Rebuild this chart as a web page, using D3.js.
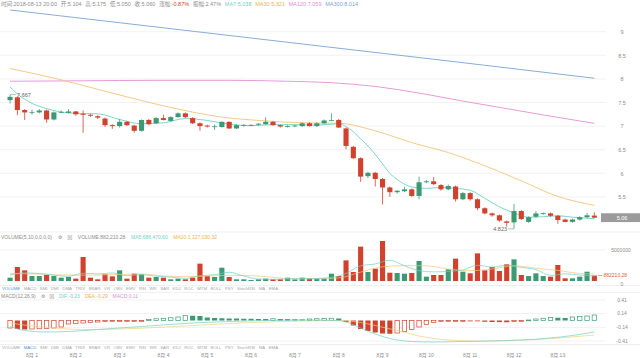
<!DOCTYPE html>
<html><head><meta charset="utf-8">
<script src="https://cdn.jsdelivr.net/npm/d3@7"></script>
<style>body{margin:0;background:#fff}svg{display:block}</style>
</head><body><svg id="c" width="640" height="358"></svg>
<script>
// ---------- DATA ----------
const opens  = [7.55,7.61,7.34,7.29,7.29,7.33,7.14,7.29,7.28,7.31, 7.26,7.24,7.21,7.16,7.02,7.00,7.09,7.01,6.90,7.13, 7.06,7.17,7.11,7.19,7.27,7.17,7.06,7.01,6.99,6.98, 7.09,6.95,7.02,7.02,7.03,7.04,7.09,7.02,6.99,7.00, 7.00,7.06,7.00,7.06,7.12,7.13,6.95,6.56,6.32,5.94, 6.01,5.88,5.70,5.60,5.62,5.66,5.52,5.81,5.83,5.75, 5.66,5.72,5.45,5.58,5.45,5.26,5.15,5.11,4.98,4.96, 5.20,4.97,5.08,5.15,5.15,5.10,5.02,4.97,5.02,5.07, 5.104];
const highs  = [7.667,7.63,7.36,7.35,7.36,7.35,7.31,7.33,7.36,7.32, 7.33,7.26,7.23,7.18,7.04,7.15,7.11,7.03,7.14,7.15, 7.19,7.24,7.21,7.29,7.29,7.19,7.08,7.03,7.03,7.10, 7.10,7.04,7.04,7.04,7.06,7.19,7.11,7.03,7.02,7.03, 7.08,7.08,7.08,7.14,7.27,7.15,6.97,6.58,6.34,6.03, 6.03,5.90,5.72,5.64,5.72,5.68,5.93,5.86,5.92,5.77, 5.76,5.74,5.60,5.60,5.47,5.28,5.17,5.13,5.00,5.35, 5.22,5.09,5.20,5.17,5.17,5.12,5.04,5.04,5.09,5.16, 5.175];
const lows   = [7.48,7.23,7.13,7.24,7.27,7.07,7.12,7.27,7.27,7.22, 6.86,7.19,7.15,6.98,6.94,6.97,7.00,6.86,6.88,7.02, 7.04,7.12,7.10,7.18,7.17,7.04,6.90,6.97,6.92,6.97, 6.94,6.94,6.99,7.00,7.01,7.03,7.01,6.97,6.97,6.98, 6.98,6.99,6.98,7.05,7.10,6.96,6.51,6.30,5.82,5.90, 5.72,5.34,5.50,5.57,5.60,5.50,5.45,5.79,5.75,5.63, 5.64,5.40,5.43,5.42,5.22,5.13,5.08,4.97,4.87,4.823, 5.01,4.95,5.06,5.12,5.08,4.93,4.96,4.95,5.00,5.05, 5.05];
const closes = [7.62,7.34,7.29,7.30,7.33,7.14,7.29,7.30,7.31,7.25, 7.24,7.22,7.18,7.02,7.00,7.09,7.02,6.90,7.13,7.04, 7.17,7.13,7.19,7.27,7.19,7.06,7.00,6.99,6.995,7.09, 6.95,7.02,7.025,7.025,7.05,7.09,7.02,6.99,7.00,7.01, 7.06,7.00,7.06,7.12,7.13,6.97,6.58,6.32,5.93,6.01, 5.88,5.70,5.60,5.63,5.66,5.52,5.81,5.83,5.77,5.66, 5.73,5.45,5.58,5.45,5.26,5.15,5.11,5.00,4.95,5.20, 5.03,5.07,5.15,5.155,5.10,5.01,4.97,5.02,5.07,5.11, 5.06];
const volumes = [540000,2260000,1720000,800000,800000,970000,800000,540000,650000,380000, 3870000,540000,270000,1080000,750000,1720000,380000,1180000,1080000,540000, 650000,540000,270000,380000,270000,540000,2800000,800000,650000,2150000, 650000,270000,270000,160000,270000,380000,270000,270000,540000,270000, 540000,380000,380000,380000,1180000,800000,3330000,1450000,5540000,1450000, 1990000,6450000,1340000,1290000,1180000,1290000,3230000,700000,970000,970000, 1880000,3600000,1500000,1240000,4460000,1720000,2260000,1610000,2690000,3490000, 970000,800000,1240000,800000,700000,2580000,430000,430000,700000,1500000, 882210.28];

// moving-average lines (candle index -> value)
const ma7Idx = [0,1,2,3,4,5,6,9,12,15,18,21,24,27,30,33,36,39,42,45,46,47,48,49,50,51,52,53,55,57,59,61,63,65,67,69,71,73,75,77,80];
const ma7Val = [7.83,7.68,7.57,7.48,7.42,7.37,7.33,7.27,7.26,7.14,7.05,7.07,7.16,7.12,7.04,7.01,7.03,7.03,7.02,7.05,6.99,6.88,6.73,6.58,6.40,6.20,6.00,5.87,5.71,5.68,5.70,5.68,5.64,5.47,5.29,5.16,5.07,5.08,5.10,5.07,5.038];
const ma30Idx = [0,7,12,17,23,29,35,40,45,50,55,60,65,70,75,80];
const ma30Val = [8.22,7.98,7.78,7.58,7.36,7.19,7.11,7.07,7.06,6.90,6.65,6.44,6.16,5.84,5.51,5.321];
const ma120Idx = [0,10,20,30,38,44,50,56,62,68,74,80];
const ma120Val = [7.95,7.96,7.97,7.97,7.95,7.92,7.84,7.70,7.53,7.37,7.21,7.059];
const ma300Idx = [0,20,40,60,80];
const ma300Val = [9.46,9.10,8.74,8.38,8.014];

const volMa5Idx = [0,2,4,8,10,12,14,16,18,20,22,24,26,28,30,32,34,36,38,40,42,44,46,48,50,52,54,56,58,60,62,64,66,68,70,72,74,76,78,80];
const volMa5Val = [1000000,1300000,1220000,750000,1250000,1140000,1300000,840000,1020000,770000,620000,420000,850000,1010000,1410000,800000,320000,270000,350000,380000,420000,570000,1210000,2460000,2750000,3350000,2450000,1670000,1470000,1550000,1780000,2540000,2240000,2550000,2200000,1840000,900000,1150000,970000,790000];
const volMa10Idx = [0,3,6,9,12,15,18,21,24,27,30,33,36,39,42,45,48,51,54,57,60,63,66,69,72,75,78,80];
const volMa10Val = [1200000,1150000,1000000,950000,960000,1060000,1130000,820000,700000,790000,910000,860000,590000,340000,350000,500000,1430000,2300000,2480000,2450000,1930000,1660000,1930000,2450000,2050000,1710000,1210000,1127030];

const macdHist = [-0.15,-0.17,-0.18,-0.17,-0.165,-0.16,-0.15,-0.13,-0.07,-0.06, -0.05,-0.04,-0.03,-0.02,-0.012,-0.01,-0.008,-0.006,-0.004,0.02, 0.035,0.045,0.055,0.07,0.10,0.095,0.09,0.06,0.05,0.045, 0.04,0.04,0.035,0.035,0.03,0.03,0.035,0.03,0.028,0.025, 0.022,0.03,0.035,0.04,0.045,0.04,-0.03,-0.10,-0.17,-0.21, -0.24,-0.26,-0.265,-0.25,-0.22,-0.18,-0.13,-0.08,-0.04,-0.02, -0.012,-0.01,-0.008,-0.008,-0.01,-0.025,-0.03,-0.032,-0.035,-0.02, -0.01,0.01,0.03,0.045,0.06,0.055,0.05,0.07,0.08,0.09, 0.11];
const difIdx = [0,2,5,8,12,18,25,30,35,40,45,46,48,50,52,55,58,62,66,70,74,77,80];
const difVal = [-0.12,-0.20,-0.23,-0.22,-0.18,-0.12,-0.05,-0.02,0.0,0.01,0.0,-0.03,-0.15,-0.27,-0.36,-0.42,-0.43,-0.42,-0.41,-0.39,-0.35,-0.30,-0.23];
const deaIdx = [0,3,6,10,15,20,25,30,35,40,45,48,50,53,56,60,64,68,72,76,80];
const deaVal = [-0.05,-0.11,-0.15,-0.18,-0.17,-0.14,-0.10,-0.06,-0.03,-0.01,0.0,-0.04,-0.10,-0.20,-0.31,-0.39,-0.41,-0.40,-0.38,-0.34,-0.29];

const priceTicks = [5.5,6,6.5,7,7.5,8,8.5,9];
const volTicks = [0,5000000];
const macdTicks = [0.41,0.14,-0.14,-0.41];
const dayLabels = ["8月 1","8月 2","8月 3","8月 4","8月 5","8月 6","8月 7","8月 8","8月 9","8月 10","8月 11","8月 12","8月 13"];
const dayIdx = [3,9,15,21,27,33,39,45,51,57,63,69,75];
const tabNames = ["VOLUME","MACD","SMI","DMI","DMA","TRIX","BRAR","VR","OBV","EMV","RSI","WR","SAR","KDJ","ROC","MTM","BOLL","PSY","StochRSI","MA","EMA"];
const lastPrice = 5.06;
const highMark = {i:0, v:7.667};
const lowMark = {i:69, v:4.823};

// ---------- DRAW ----------
const FONT = '"Liberation Sans","Noto Sans CJK SC",Arial,sans-serif';
const RED = "#d0412e", GREEN = "#3b9a73";
const GRID = "#ededed", TXT = "#8c8c8c";
const C7 = "#6fd0c4", C30 = "#f3c47a", C120 = "#e48ed6", C300 = "#7aa3d6";
const svg = d3.select("#c").attr("font-family", FONT);
const N = closes.length;

const xb = d3.scaleBand().domain(d3.range(N)).range([5.33, 599.1]).padding(0.3);
const cx = i => xb(i) + xb.bandwidth()/2;
const yP = d3.scaleLinear().domain([5, 9]).range([220.5, 31.7]);
const yV = d3.scaleLinear().domain([0, 5000000]).range([281, 250]);
const yM = d3.scaleLinear().domain([-0.41, 0.41]).range([341, 300]);

// separators
[[232],[285.5],[292.5],[344.5]].forEach(([y]) =>
  svg.append("line").attr("x1",0).attr("x2",640).attr("y1",y).attr("y2",y).attr("stroke","#e6e6e6").attr("stroke-width",0.6));

// price grid + axis
svg.append("g").selectAll("line").data(priceTicks).join("line")
  .attr("x1",0).attr("x2",606).attr("y1",d=>yP(d)).attr("y2",d=>yP(d))
  .attr("stroke",GRID).attr("stroke-width",0.7);
const ax = svg.append("g").attr("transform","translate(616,0)")
  .call(d3.axisRight(yP).tickValues(priceTicks).tickSize(0).tickPadding(0).tickFormat(d3.format("")));
ax.select(".domain").remove();
ax.selectAll("text").attr("font-size",5.5).attr("fill",TXT).attr("text-anchor","middle").attr("x",6).attr("font-family",FONT);

// MA lines
const clip = svg.append("clipPath").attr("id","mainclip").append("rect").attr("x",0).attr("y",8).attr("width",606).attr("height",224);
function maLine(g, idx, val, ys, color, w){
  const pts = idx.map((k,j)=>[cx(k), ys(val[j])]);
  g.append("path").attr("d", d3.line().curve(d3.curveMonotoneX)(pts))
    .attr("fill","none").attr("stroke",color).attr("stroke-width",w);
}
const gm = svg.append("g").attr("clip-path","url(#mainclip)");
maLine(gm, ma300Idx, ma300Val, yP, C300, 0.9);
maLine(gm, ma120Idx, ma120Val, yP, C120, 0.9);
maLine(gm, ma30Idx, ma30Val, yP, C30, 0.9);
maLine(gm, ma7Idx, ma7Val, yP, C7, 0.9);

// candles
const up = i => closes[i] >= opens[i];
const gc = svg.append("g");
const cand = gc.selectAll("g").data(d3.range(N)).join("g");
cand.append("line").attr("x1",cx).attr("x2",cx).attr("y1",i=>yP(highs[i])).attr("y2",i=>yP(lows[i]))
  .attr("stroke",i=>up(i)?GREEN:RED).attr("stroke-width",0.8);
cand.append("rect").attr("x",i=>xb(i)).attr("width",xb.bandwidth())
  .attr("y",i=>yP(Math.max(opens[i],closes[i])))
  .attr("height",i=>Math.max(0.8, Math.abs(yP(opens[i])-yP(closes[i]))))
  .attr("fill",i=>up(i)?GREEN:RED);

// high / low markers
svg.append("line").attr("x1",cx(highMark.i)).attr("x2",cx(highMark.i)+6).attr("y1",yP(highMark.v)).attr("y2",yP(highMark.v)).attr("stroke","#777").attr("stroke-width",0.5);
svg.append("text").attr("x",cx(highMark.i)+7).attr("y",yP(highMark.v)).attr("dy","0.35em").attr("font-size",5.5).attr("fill","#666").text(highMark.v.toFixed(3));
svg.append("line").attr("x1",cx(lowMark.i)-6).attr("x2",cx(lowMark.i)).attr("y1",yP(lowMark.v)).attr("y2",yP(lowMark.v)).attr("stroke","#777").attr("stroke-width",0.5);
svg.append("text").attr("x",cx(lowMark.i)-7).attr("y",yP(lowMark.v)).attr("dy","0.35em").attr("text-anchor","end").attr("font-size",5.5).attr("fill","#666").text(lowMark.v.toFixed(3));

// last price tag
svg.append("rect").attr("x",601).attr("y",yP(lastPrice)-4.4).attr("width",39).attr("height",8.8).attr("fill","#9b9b9b");
svg.append("text").attr("x",622).attr("y",yP(lastPrice)).attr("dy","0.35em").attr("text-anchor","middle").attr("font-size",5.5).attr("fill","#fff").text(lastPrice.toFixed(2));

// ---------- text rows ----------
function row(items, x0, x1, y, size){
  const g = svg.append("g");
  const t = g.selectAll("text").data(items).join("text").attr("y",y).attr("font-size",size);
  t.each(function(d){
    const s = d3.select(this);
    d.parts.forEach(p => s.append("tspan").attr("fill",p[1]).text(p[0]));
  });
  const w = t.nodes().map(n=>n.getComputedTextLength());
  const gap = (x1 - x0 - d3.sum(w)) / (items.length - 1);
  let x = x0;
  t.attr("x",(d,i)=>{const r = x; x += w[i] + gap; return r;});
}
row([
  {parts:[["时间:2018-08-13 20:00",TXT]]},
  {parts:[["开:5.104",TXT]]},
  {parts:[["高:5.175",TXT]]},
  {parts:[["低:5.050",TXT]]},
  {parts:[["收:5.060",TXT]]},
  {parts:[["涨幅:",TXT],["-0.87%",RED]]},
  {parts:[["振幅:2.47%",TXT]]},
  {parts:[["MA7:5.038",C7]]},
  {parts:[["MA30:5.321","#e8b44f"]]},
  {parts:[["MA120:7.059",C120]]},
  {parts:[["MA300:8.014",C300]]}
], 1, 358, 6, 5.5);

row([
  {parts:[["VOLUME(5,10,0,0,0,0)",TXT]]},
  {parts:[["⚙",TXT]]},
  {parts:[["⊠",TXT]]},
  {parts:[["VOLUME:882,210.28",TXT]]},
  {parts:[["MA5:686,470.60",C7]]},
  {parts:[["MA10:1,127,030.32","#e8b44f"]]}
], 1, 217, 239, 5);

row([
  {parts:[["MACD(12,26,9)",TXT]]},
  {parts:[["⚙",TXT]]},
  {parts:[["⊠",TXT]]},
  {parts:[["DIF:-0.23",C7]]},
  {parts:[["DEA:-0.29","#e8b44f"]]},
  {parts:[["MACD:0.11",C120]]}
], 1, 138, 298, 5);

row(tabNames.map((n,i)=>({parts:[[n, i===0?"#4d94d6":"#a5a5a5"]]})), 2, 278, 290, 4.3);
row(tabNames.map((n,i)=>({parts:[[n, i===1?"#4d94d6":"#a5a5a5"]]})), 2, 278, 349, 4.3);

// ---------- volume panel ----------
svg.append("line").attr("x1",0).attr("x2",606).attr("y1",yV(5000000)).attr("y2",yV(5000000)).attr("stroke",GRID).attr("stroke-width",0.7);
svg.append("g").selectAll("rect").data(d3.range(N)).join("rect")
  .attr("x",i=>xb(i)).attr("width",xb.bandwidth())
  .attr("y",i=>yV(volumes[i])).attr("height",i=>yV(0)-yV(volumes[i]))
  .attr("fill",i=>up(i)?GREEN:RED);
maLine(svg, volMa10Idx, volMa10Val, yV, C30, 0.7);
maLine(svg, volMa5Idx, volMa5Val, yV, C7, 0.7);
svg.append("g").selectAll("text").data(volTicks).join("text")
  .attr("x",d=>d===0?622:621).attr("y",d=>yV(d)).attr("dy",d=>d===0?"0.9em":"0.35em").attr("text-anchor","middle")
  .attr("font-size",5).attr("fill",TXT).text(d=>d);
const lastVol = volumes[N-1];
svg.append("line").attr("x1",598).attr("x2",602).attr("y1",yV(lastVol)).attr("y2",yV(lastVol)).attr("stroke","#e0603a").attr("stroke-width",0.6);
svg.append("text").attr("x",603.5).attr("y",yV(lastVol)).attr("dy","0.35em").attr("font-size",5).attr("fill","#e0603a").text(d3.format(".2f")(lastVol));

// ---------- MACD panel ----------
svg.append("g").selectAll("line").data(macdTicks).join("line")
  .attr("x1",0).attr("x2",606).attr("y1",d=>yM(d)).attr("y2",d=>yM(d)).attr("stroke",GRID).attr("stroke-width",0.7);
svg.append("g").selectAll("text").data(macdTicks).join("text")
  .attr("x",622).attr("y",d=>yM(d)).attr("dy","0.35em").attr("text-anchor","middle")
  .attr("font-size",5).attr("fill",TXT).text(d=>d.toFixed(2));
svg.append("g").selectAll("rect").data(d3.range(N)).join("rect")
  .each(function(i){
    const v = macdHist[i], prev = i>0 ? macdHist[i-1] : -Infinity;
    const col = v >= 0 ? GREEN : RED;
    const hollow = v > prev;
    const y0 = yM(Math.max(v,0)), y1 = yM(Math.min(v,0));
    const h = Math.max(0.8, y1 - y0);
    d3.select(this)
      .attr("x", hollow ? xb(i)+0.35 : xb(i)).attr("width", hollow ? xb.bandwidth()-0.7 : xb.bandwidth())
      .attr("y", y0).attr("height", h)
      .attr("fill", hollow ? "#fff" : col).attr("stroke", hollow ? col : "none").attr("stroke-width",0.7);
  });
maLine(svg, deaIdx, deaVal, yM, "#ecd27c", 0.7);
maLine(svg, difIdx, difVal, yM, C7, 0.7);

// ---------- date axis ----------
svg.append("g").selectAll("text").data(dayLabels).join("text")
  .attr("x",(d,j)=>cx(dayIdx[j])).attr("y",357).attr("text-anchor","middle")
  .attr("font-size",5).attr("fill",TXT).text(d=>d);
</script></body></html>
